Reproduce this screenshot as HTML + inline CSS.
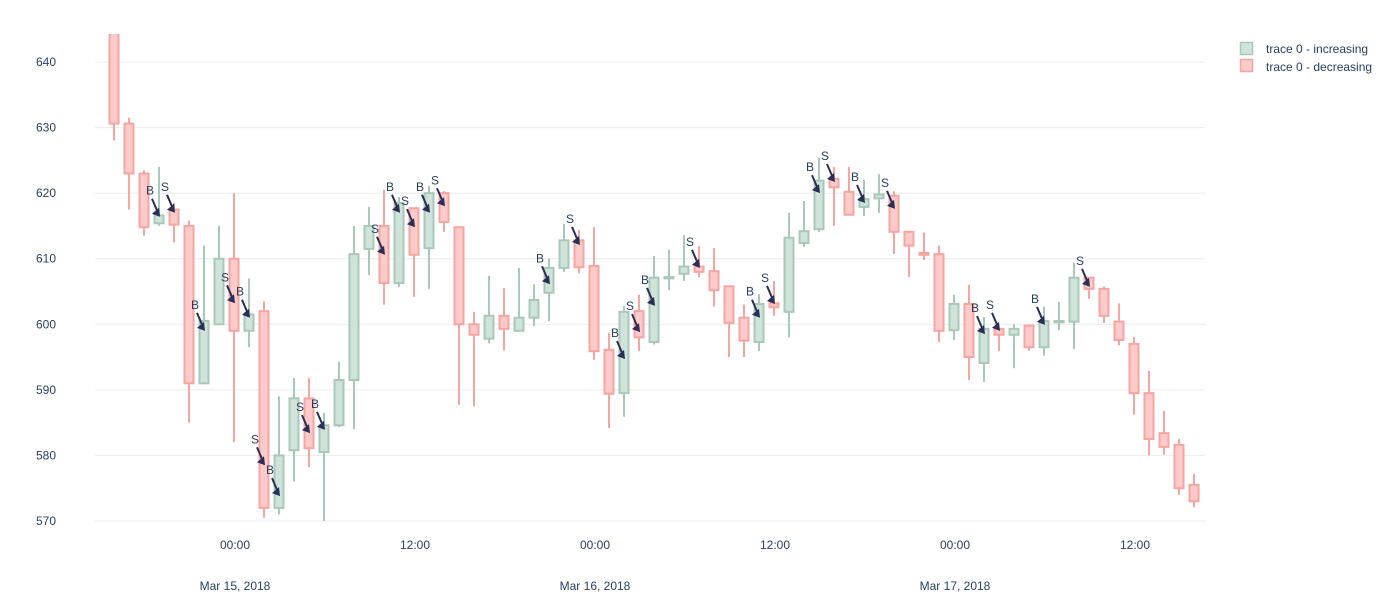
<!DOCTYPE html>
<html><head><meta charset="utf-8">
<style>
body{margin:0;background:#fff;font-family:"Liberation Sans",sans-serif;}
svg{display:block}
text{font-family:"Liberation Sans",sans-serif;fill:#2a3f5f;font-size:12px}
</style></head>
<body>
<svg id="chart" width="1400" height="610" viewBox="0 0 1400 610">
<defs><clipPath id="clip"><rect x="95" y="34" width="1112" height="497"/></clipPath></defs>
<g id="grid"></g>
<g id="yaxis"></g>
<g id="xaxis"></g>
<g id="candles" clip-path="url(#clip)"></g>
<g id="annots"></g>
<g>
<g>
<rect x="1240.5" y="42.5" width="12" height="12" fill="#cfe3da" stroke="#a8c8ba" stroke-width="1.5"/>
<text x="1266" y="53">trace 0 - increasing</text></g>
<g>
<rect x="1240.5" y="59.5" width="12" height="12" fill="#ffcaca" stroke="#f5a5a2" stroke-width="1.5"/>
<text x="1266" y="71">trace 0 - decreasing</text></g>
</g>
</svg>
<script>
const opens=[644.5,630.6,623,615.4,617.5,615,591,600,610,599,602,572,580.8,588.7,580.5,584.6,591.5,611.5,615,606.3,617.7,611.6,620,614.8,600,597.8,601.3,599,601,604.8,608.6,612.8,608.9,596.1,589.5,602,597.3,607,607.7,608.8,608.1,605.8,601,597.3,603.2,601.9,612.4,614.5,622.2,620.2,617.9,619.2,619.6,614.1,610.9,610.7,599.1,603.1,594.1,599.3,598.4,599.8,596.5,600.3,600.4,607.1,605.4,600.4,597,589.5,583.4,581.6,575.5];
const highs=[646,631.5,623.5,624,618.5,615.8,612,615,620,607,603.5,589,591.8,591.8,586.5,594.3,615,617.9,620.5,619.4,617.7,621.1,620.3,614.8,601.9,607.4,605.5,608.6,606.1,610,615.3,614.4,614.8,598.7,602.8,604.5,610.4,611.4,613.6,611.9,611.6,605.8,603,604.6,606.6,617,618.8,625.4,624,624,622,622.9,620.3,614.1,614,612,604.5,606,601.1,599.3,600,599.8,602.7,603.4,609.4,607.1,605.8,603.2,598.1,592.9,586.8,582.5,577.2];
const lows=[628,617.5,613.5,615,612.5,585,591,600,582,596.5,570.5,571,576,578.2,570,584.3,584,607.5,603,605.7,604.2,605.4,614.1,587.7,587.5,597.1,596,599,599.7,600.5,608,607.8,594.6,584.2,585.9,595.9,596.9,605.2,606.6,607.2,602.7,595,595,595.9,601.3,598,611.8,614.1,615,616.7,616.5,617,610.7,607.2,609.8,597.3,597.6,591.5,591.2,595.9,593.3,596,595.2,599.1,596.2,603.9,600.2,596.8,586.2,580,580.1,574,572.1];
const closes=[630.6,623,614.8,616.6,615.2,591,600.5,610,599,601.5,572,580,588.7,581.1,584.6,591.5,610.7,615,606.3,618.5,610.6,620,615.6,600,598.4,601.3,599.3,601,603.7,608.6,612.8,608.7,595.9,589.4,601.9,598,607.1,607.2,608.8,608,605.2,600.2,597.5,603.1,602.6,613.2,614.2,621.9,620.9,616.7,619.1,619.8,614.1,612,610.6,599,603.1,595,599.3,598.4,599.3,596.5,600.5,600.5,607.1,605.4,601.3,597.6,589.5,582.5,581.3,575,573];
const annIdx=[3,4,6,8,9,10,11,13,14,18,19,20,21,22,29,31,34,35,36,39,43,44,47,48,50,52,58,59,62,65];
const annLabel=["B","S","B","S","B","S","B","S","B","S","B","S","B","S","B","S","B","S","B","S","B","S","B","S","B","S","B","S","B","S"];
const annVal=[616.4,617,599,603.2,601,578.5,573.8,583.4,583.9,610.6,617,614.8,617,618,606.1,612.1,594.7,598.8,602.8,608.6,601,603.1,620,621.7,618.5,617.6,598.5,599,599.9,605.7];
const yTicks=[570,580,590,600,610,620,630,640];
const xTickHours=[8,20,32,44,56,68];
const xTickTop=["00:00","12:00","00:00","12:00","00:00","12:00"];
const xTickBottom=["Mar 15, 2018","","Mar 16, 2018","","Mar 17, 2018",""];

const NS="http://www.w3.org/2000/svg";
const X=i=>114+15*i;
const Y=v=>62+(640-v)*6.557;
function mk(tag,attrs,parent){const e=document.createElementNS(NS,tag);for(const k in attrs)e.setAttribute(k,attrs[k]);parent.appendChild(e);return e;}
const grid=document.getElementById('grid'),ya=document.getElementById('yaxis'),xa=document.getElementById('xaxis'),cg=document.getElementById('candles'),ag=document.getElementById('annots');
yTicks.forEach(v=>{
  const l=mk('line',{x1:95,x2:1205,y1:Y(v),y2:Y(v),stroke:'#ebebeb','stroke-width':1},grid);
  
  
  const t=mk('text',{x:56,y:Y(v)+4,'text-anchor':'end'},ya);t.textContent=v;
  
  
});
xTickHours.forEach((h,k)=>{
  const t=mk('text',{x:X(h)+1,y:549,'text-anchor':'middle'},xa);t.textContent=xTickTop[k];
  
  
  if(xTickBottom[k]){const d=mk('text',{x:X(h)+1,y:590,'text-anchor':'middle'},xa);d.textContent=xTickBottom[k];
  
  }
});
opens.forEach((o,i)=>{
  const c=closes[i],inc=c>=o;
  const stroke=inc?'#a8c8ba':'#f5a5a2',fill=inc?'#cfe3da':'#ffcaca';
  const g=mk('g',{},cg);
  
  
  const x=X(i);
  mk('line',{x1:x,x2:x,y1:Y(highs[i]),y2:Y(lows[i]),stroke:stroke,'stroke-width':2},g);
  const top=Y(Math.max(o,c)),bot=Y(Math.min(o,c));
  mk('rect',{x:x-4.5,y:top,width:9,height:Math.max(bot-top,1),fill:fill,stroke:stroke,'stroke-width':2},g);
});
annIdx.forEach((idx,k)=>{
  const tx=X(idx)+1,ty=Y(annVal[k]);
  const g=mk('g',{},ag);
  
  
  const sx=tx-8,sy=ty-18;
  mk('line',{x1:sx,y1:sy,x2:tx-2,y2:ty-4,stroke:'#2a2f55','stroke-width':2},g);
  mk('polygon',{points:`${tx},${ty} ${tx-8},${ty-3} ${tx-1},${ty-9}`,fill:'#2a2f55'},g);
  const t=mk('text',{x:sx-2,y:sy-4,'text-anchor':'middle','font-size':'12'},g);t.textContent=annLabel[k];
});
</script>
</body></html>
